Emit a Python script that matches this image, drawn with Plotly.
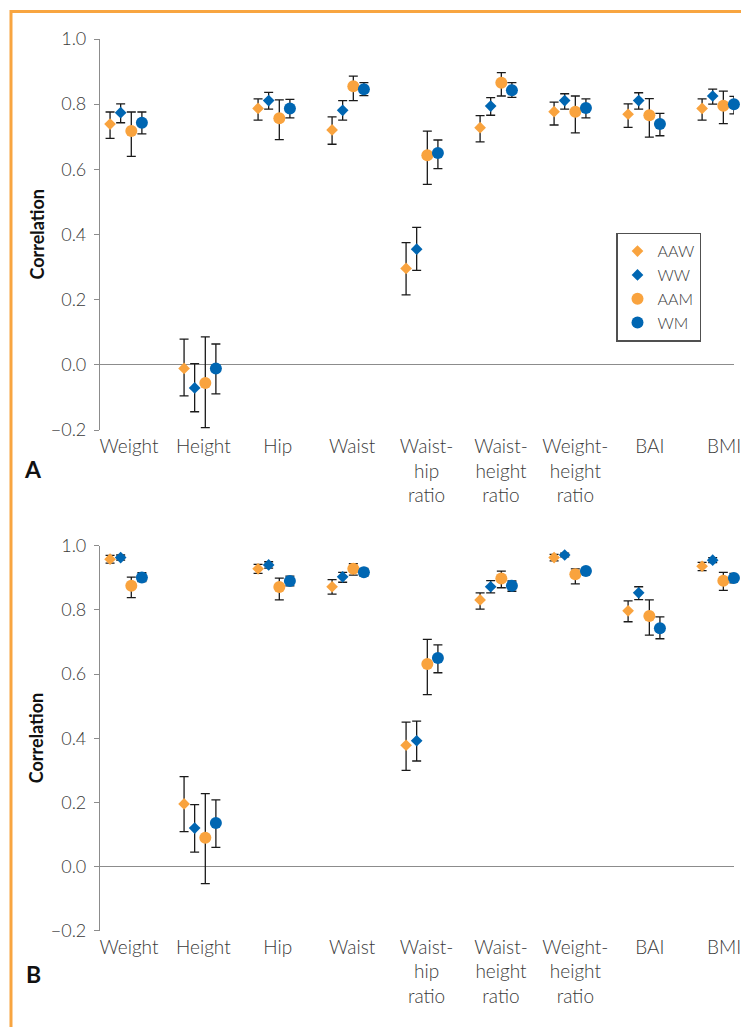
import plotly.graph_objects as go

# ---------------- data ----------------
categories = ["Weight", "Height", "Hip", "Waist", "Waist-<br>hip<br>ratio",
              "Waist-<br>height<br>ratio", "Weight-<br>height<br>ratio", "BAI", "BMI"]
groups = ["AAW", "WW", "AAM", "WM"]

# Panel A: correlation, upper CI, lower CI
a_aaw    = [0.739, -0.011, 0.787, 0.721, 0.296, 0.728, 0.777, 0.769, 0.787]
a_aaw_hi = [0.776,  0.079, 0.816, 0.761, 0.375, 0.765, 0.806, 0.801, 0.816]
a_aaw_lo = [0.695, -0.095, 0.751, 0.677, 0.215, 0.684, 0.736, 0.729, 0.751]

a_ww     = [0.774, -0.071, 0.811, 0.781, 0.355, 0.794, 0.811, 0.811, 0.825]
a_ww_hi  = [0.801,  0.004, 0.836, 0.811, 0.422, 0.820, 0.832, 0.835, 0.846]
a_ww_lo  = [0.743, -0.144, 0.785, 0.751, 0.290, 0.766, 0.785, 0.785, 0.800]

a_aam    = [0.718, -0.056, 0.757, 0.855, 0.643, 0.866, 0.777, 0.766, 0.795]
a_aam_hi = [0.776,  0.086, 0.813, 0.886, 0.717, 0.897, 0.825, 0.817, 0.840]
a_aam_lo = [0.640, -0.193, 0.691, 0.811, 0.554, 0.825, 0.712, 0.699, 0.740]

a_wm     = [0.743, -0.011, 0.787, 0.846, 0.650, 0.843, 0.788, 0.739, 0.800]
a_wm_hi  = [0.776,  0.064, 0.815, 0.866, 0.690, 0.866, 0.816, 0.772, 0.824]
a_wm_lo  = [0.709, -0.089, 0.758, 0.826, 0.602, 0.821, 0.758, 0.703, 0.770]

# Panel B
b_aaw    = [0.958, 0.195, 0.928, 0.872, 0.378, 0.831, 0.963, 0.797, 0.936]
b_aaw_hi = [0.970, 0.280, 0.942, 0.894, 0.450, 0.853, 0.973, 0.828, 0.948]
b_aaw_lo = [0.946, 0.109, 0.914, 0.849, 0.300, 0.802, 0.953, 0.763, 0.922]

b_ww     = [0.963, 0.120, 0.940, 0.903, 0.392, 0.872, 0.971, 0.853, 0.955]
b_ww_hi  = [0.971, 0.193, 0.950, 0.917, 0.453, 0.891, 0.977, 0.872, 0.963]
b_ww_lo  = [0.955, 0.045, 0.930, 0.886, 0.329, 0.853, 0.965, 0.832, 0.947]

b_aam    = [0.875, 0.090, 0.871, 0.928, 0.631, 0.898, 0.911, 0.781, 0.891]
b_aam_hi = [0.902, 0.227, 0.899, 0.944, 0.708, 0.921, 0.928, 0.831, 0.917]
b_aam_lo = [0.838, -0.053, 0.831, 0.908, 0.536, 0.869, 0.881, 0.721, 0.861]

b_wm     = [0.901, 0.136, 0.890, 0.917, 0.650, 0.875, 0.921, 0.743, 0.899]
b_wm_hi  = [0.916, 0.208, 0.905, 0.929, 0.691, 0.890, 0.929, 0.778, 0.914]
b_wm_lo  = [0.888, 0.060, 0.875, 0.905, 0.604, 0.858, 0.913, 0.710, 0.884]

y_ticks = [-0.2, 0.0, 0.2, 0.4, 0.6, 0.8, 1.0]

# ---------------- styling ----------------
ORANGE = "#F9A33E"
BLUE = "#0066B2"
FRAME = "#F8A540"
AXIS = "#8C8C8C"
TXT = "#3A3A3A"
FONT = "Lato"

colors = [ORANGE, BLUE, ORANGE, BLUE]
symbols = ["diamond", "diamond", "circle", "circle"]
sizes = [9, 9, 12, 12]
offsets = [-0.215, -0.072, 0.072, 0.215]

panelA = [(a_aaw, a_aaw_hi, a_aaw_lo), (a_ww, a_ww_hi, a_ww_lo),
          (a_aam, a_aam_hi, a_aam_lo), (a_wm, a_wm_hi, a_wm_lo)]
panelB = [(b_aaw, b_aaw_hi, b_aaw_lo), (b_ww, b_ww_hi, b_ww_lo),
          (b_aam, b_aam_hi, b_aam_lo), (b_wm, b_wm_hi, b_wm_lo)]

# page has an 8px body margin -> figure drawn at (8, 8)
OFF = 8
W, H = 749 - OFF, 1027 - OFF
ML, MR = 100 - OFF, 749 - 734
X_RANGE = [-0.351, 8.216]
Y_RANGE = [-0.2, 1.0]


def px_x(px):
    return (px - OFF - ML) / (W - ML - MR)


def px_y(py):
    return (H - (py - OFF)) / H


domA = [px_y(430), px_y(39)]
domB = [px_y(930.7), px_y(545.7)]

fig = go.Figure()


def add_panel(panel, xa, ya, show):
    for g, (vals, hi, lo) in enumerate(panel):
        xs = [k + offsets[g] for k in range(len(categories))]
        fig.add_trace(go.Scatter(
            x=xs, y=vals, mode="markers", name=groups[g],
            showlegend=show,
            xaxis=xa, yaxis=ya, cliponaxis=False,
            marker=dict(symbol=symbols[g], color=colors[g], size=sizes[g],
                        line=dict(width=0)),
            error_y=dict(type="data", symmetric=False,
                         array=[h - v for h, v in zip(hi, vals)],
                         arrayminus=[v - l for v, l in zip(vals, lo)],
                         color="#1A1A1A", thickness=1.3, width=4.5),
        ))


add_panel(panelA, "x", "y", True)
add_panel(panelB, "x2", "y2", False)

label_pos = [k * 1.0054 + 0.04 for k in range(len(categories))]
boundary_ticks = [X_RANGE[0] + 1.428 * j for j in range(7)]


def xcat(domain_anchor):
    return dict(domain=[0, 1], range=X_RANGE, anchor=domain_anchor,
                showline=False, showgrid=False, zeroline=False, ticks="",
                tickmode="array", tickvals=label_pos, ticktext=categories,
                tickfont=dict(family=FONT, size=19, color=TXT, weight=300),
                ticklabelstandoff=3, automargin=False, fixedrange=True)


def ycat(dom, anchor):
    return dict(domain=dom, range=Y_RANGE, anchor=anchor,
                showline=True, linecolor=AXIS, linewidth=1.2,
                showgrid=False, zeroline=True, zerolinecolor=AXIS, zerolinewidth=1.2,
                ticks="outside", ticklen=5, tickcolor=AXIS, tickwidth=1.2,
                tickmode="array", tickvals=y_ticks, tickformat=".1f",
                tickfont=dict(family=FONT, size=18, color=TXT, weight=300),
                ticklabelstandoff=4, automargin=False, fixedrange=True)


def zero_pos(dom):
    return dom[0] + (dom[1] - dom[0]) * (0 - Y_RANGE[0]) / (Y_RANGE[1] - Y_RANGE[0])


def xbound(over, dom):
    return dict(overlaying=over, anchor="free", position=zero_pos(dom),
                range=X_RANGE, showline=False, showgrid=False, zeroline=False,
                ticks="outside", ticklen=5, tickcolor=AXIS, tickwidth=1.2,
                tickmode="array", tickvals=boundary_ticks, showticklabels=False,
                automargin=False, fixedrange=True)


fig.update_layout(
    width=W, height=H,
    margin=dict(l=ML, r=MR, t=0, b=0),
    paper_bgcolor="white", plot_bgcolor="white",
    font=dict(family=FONT, color=TXT),
    xaxis=xcat("y"), yaxis=ycat(domA, "x"),
    xaxis2=xcat("y2"), yaxis2=ycat(domB, "x2"),
    xaxis3=xbound("x", domA), xaxis4=xbound("x2", domB),
    showlegend=True,
    legend=dict(x=px_x(701), y=px_y(232.7), xanchor="right", yanchor="top",
                bordercolor="#505050", borderwidth=1.5, bgcolor="white",
                font=dict(family=FONT, size=16, color=TXT, weight=300),
                tracegroupgap=0, itemwidth=30),
)

# y axis titles & panel letters
for yc in [(domA[0] + domA[1]) / 2, (domB[0] + domB[1]) / 2]:
    fig.add_annotation(text="<b>Correlation</b>", xref="paper", yref="paper",
                       x=px_x(36), y=yc, textangle=-90, showarrow=False,
                       xanchor="center", yanchor="middle",
                       font=dict(family=FONT, size=18, color="#111111"))
for letter, cx, cy in [("A", 32.5, 469), ("B", 33, 973.5)]:
    fig.add_annotation(text="<b>%s</b>" % letter, xref="paper", yref="paper",
                       x=px_x(cx), y=px_y(cy), showarrow=False,
                       xanchor="center", yanchor="middle",
                       font=dict(family=FONT, size=23, color="#111111"))

# orange frame (top and left edges)
fig.add_shape(type="path", xref="paper", yref="paper",
              path="M %f,%f L %f,%f L %f,%f" % (px_x(11), px_y(1040), px_x(11), px_y(11.5),
                                                 px_x(760), px_y(11.5)),
              line=dict(color=FRAME, width=3))

fig.write_html("out.html")
